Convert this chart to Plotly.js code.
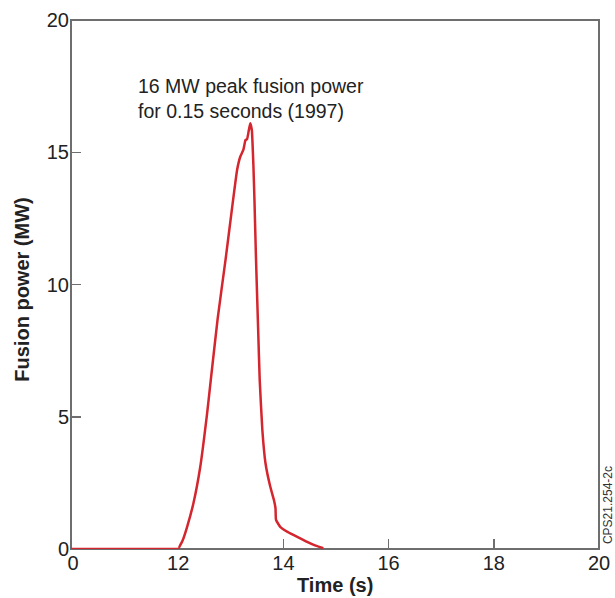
<!DOCTYPE html>
<html>
<head>
<meta charset="utf-8">
<script src="https://cdn.plot.ly/plotly-3.0.1.min.js"></script>
<style>html,body{margin:0;padding:0;background:#fff;}#chart{width:615px;height:598px;}</style>
</head>
<body>
<div id="chart"></div>
<script>
// Baseline segment (axis section 0–12 s, compressed)
const baseTime = [0, 12];
const basePower = [0, 0];

// Fusion pulse (axis section 12–20 s)
const pulseTime = [12.0, 12.08, 12.17, 12.29, 12.42, 12.55, 12.62, 12.75, 12.90, 13.02, 13.12, 13.18, 13.24, 13.28, 13.31, 13.34, 13.37, 13.40, 13.43, 13.45, 13.48, 13.52, 13.55, 13.60, 13.66, 13.75, 13.82, 13.85, 13.86, 13.94, 14.05, 14.19, 14.32, 14.44, 14.60, 14.76];
const pulsePower = [0.0, 0.3, 0.84, 1.73, 3.11, 5.13, 6.39, 8.7, 10.93, 12.82, 14.33, 14.83, 15.1, 15.46, 15.5, 15.8, 16.1, 15.84, 14.5, 13.2, 10.93, 8.3, 6.39, 4.5, 3.24, 2.36, 1.85, 1.54, 1.1, 0.84, 0.68, 0.53, 0.4, 0.28, 0.14, 0.03];

const xTicks1 = [0];
const xTicks2 = [12, 14, 16, 18, 20];
const yTicks = [0, 5, 10, 15, 20];

const noteLine1 = "16 MW peak fusion power";
const noteLine2 = "for 0.15 seconds (1997)";
const xTitle = "Time (s)";
const yTitle = "Fusion power (MW)";
const figId = "CPS21.254-2c";

const red = "#d4262e";
const axisGray = "#6e6e6e";
const font = "Arial, 'Liberation Sans', sans-serif";
const split = 0.203;

const traces = [
  {x: baseTime, y: basePower, xaxis: "x", yaxis: "y", mode: "lines",
   line: {color: red, width: 2.5}, hoverinfo: "skip", showlegend: false, cliponaxis: false},
  {x: pulseTime, y: pulsePower, xaxis: "x2", yaxis: "y", mode: "lines",
   line: {color: red, width: 2.5, shape: "spline", smoothing: 0.4}, hoverinfo: "skip", showlegend: false, cliponaxis: false}
];

const tickCommon = {
  ticks: "inside", ticklen: 10, tickwidth: 1.5, tickcolor: axisGray,
  showgrid: false, zeroline: false, showline: false,
  tickfont: {family: font, size: 20, color: "#222"}
};

const layout = {
  width: 615, height: 598,
  margin: {l: 71, r: 16, t: 20, b: 49},
  paper_bgcolor: "#fff", plot_bgcolor: "#fff",
  xaxis: Object.assign({}, tickCommon, {domain: [0, split], range: [0, 12], tickmode: "array", tickvals: xTicks1, ticktext: xTicks1.map(String), anchor: "y", ticklabelshift: 2}),
  xaxis2: Object.assign({}, tickCommon, {domain: [split, 1], range: [12, 20], tickmode: "array", tickvals: xTicks2, ticktext: xTicks2.map(String), anchor: "y"}),
  yaxis: Object.assign({}, tickCommon, {range: [0, 20], tickmode: "array", tickvals: yTicks, ticktext: yTicks.map(String), anchor: "x", ticklabelstandoff: 1}),
  shapes: [
    {type: "rect", xref: "paper", yref: "paper", x0: 0, x1: 1, y0: 0, y1: 1,
     line: {color: axisGray, width: 2}, fillcolor: "rgba(0,0,0,0)", layer: "below"}
  ],
  annotations: [
    {text: noteLine1 + "<br>" + noteLine2, xref: "paper", yref: "y", x: 0.124, y: 17.05,
     xanchor: "left", yanchor: "middle", align: "left", showarrow: false,
     font: {family: font, size: 19.5, color: "#222"}},
    {text: "<b>" + xTitle + "</b>", xref: "paper", yref: "paper", x: 0.5, y: -0.068,
     xanchor: "center", yanchor: "middle", showarrow: false,
     font: {family: font, size: 20, color: "#222"}},
    {text: "<b>" + yTitle + "</b>", xref: "paper", yref: "paper", x: -0.093, y: 0.49,
     xanchor: "center", yanchor: "middle", textangle: -90, showarrow: false,
     font: {family: font, size: 20, color: "#222"}},
    {text: figId, xref: "paper", yref: "paper", x: 1.017, y: 0.083,
     xanchor: "center", yanchor: "middle", textangle: -90, showarrow: false,
     font: {family: font, size: 12, color: "#333"}}
  ]
};

Plotly.newPlot("chart", traces, layout, {displayModeBar: false, staticPlot: true});
</script>
</body>
</html>
